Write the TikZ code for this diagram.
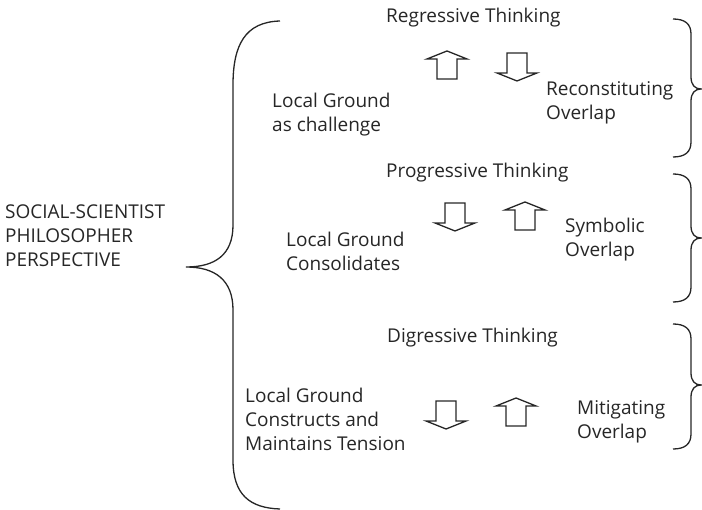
\documentclass[tikz,border=0pt]{standalone}
\usepackage{fontspec}
\setmainfont{Open Sans}
\usepackage{tikz}
\def\rightbrace(#1:#2:#3){\draw[brace] (673,#1) .. controls (685,#1) and (691,#1+5) .. (691,#1+15) -- (691,#2-12) .. controls (691,#2-4) and (695,#2) .. (701,#2) .. controls (695,#2) and (691,#2+4) .. (691,#2+12) -- (691,#3-15) .. controls (691,#3-5) and (685,#3) .. (673,#3);}
\def\arrowup(#1,#2){\draw[hollow,shift={(#1,#2)}] (0,0) -- (20,8) -- (10,8) -- (10,28) -- (-10,28) -- (-10,8) -- (-20,8) -- cycle;}
\def\arrowdown(#1,#2){\draw[hollow,shift={(#1,#2)}] (-10,0) -- (10,0) -- (10,20) -- (20,20) -- (0,28) -- (-20,20) -- (-10,20) -- cycle;}

\begin{document}
\begin{tikzpicture}[x=1pt,y=-1pt,
	lbl/.style={anchor=base west, inner sep=0pt, align=left, font=\fontsize{19}{24}\selectfont, text=black!85},
	brace/.style={line width=1.3pt, black!85},
	hollow/.style={line width=1.3pt, black!85, line join=miter}]
			%%%%% START %%%%%
			\useasboundingbox (0,0) rectangle (702,510);
			
			% base west of a multi-line node sits on its last line
			\node[lbl] (social) at (5,267) {SOCIAL-SCIENTIST\\PHILOSOPHER\\PERSPECTIVE};
			
			\draw[brace] (280,21) .. controls (245,22) and (233,45) .. (233,85) -- (233,225) .. controls (233,255) and (215,267) .. (186,267) .. controls (215,267) and (233,280) .. (233,310) -- (233,460) .. controls (233,495) and (250,508) .. (280,509);
			
			\node[lbl] (regressive) at (386,23) {Regressive Thinking};
			\node[lbl] (lgchallenge) at (272,132) {Local Ground\\as challenge};
			\node[lbl] (reconstituting) at (546,120) {Reconstituting\\Overlap};
			\arrowup(447,51);
			\arrowdown(517,53);
			\rightbrace(19:89:157);
			
			\node[lbl] (progressive) at (386,178) {Progressive Thinking};
			\node[lbl] (lgconsolidates) at (286,271) {Local Ground\\Consolidates};
			\node[lbl] (symbolic) at (565,257) {Symbolic\\Overlap};
			\arrowdown(455,203);
			\arrowup(525,202);
			\rightbrace(174:238:302);
			
			\node[lbl] (digressive) at (387,343) {Digressive Thinking};
			\node[lbl] (lgtension) at (245,451) {Local Ground\\Constructs and\\Maintains Tension};
			\node[lbl] (mitigating) at (577,439) {Mitigating\\Overlap};
			\arrowdown(446,401);
			\arrowup(516,398);
			\rightbrace(324:385:449);
			
			%%%%% END %%%%%
\end{tikzpicture}
\end{document}
